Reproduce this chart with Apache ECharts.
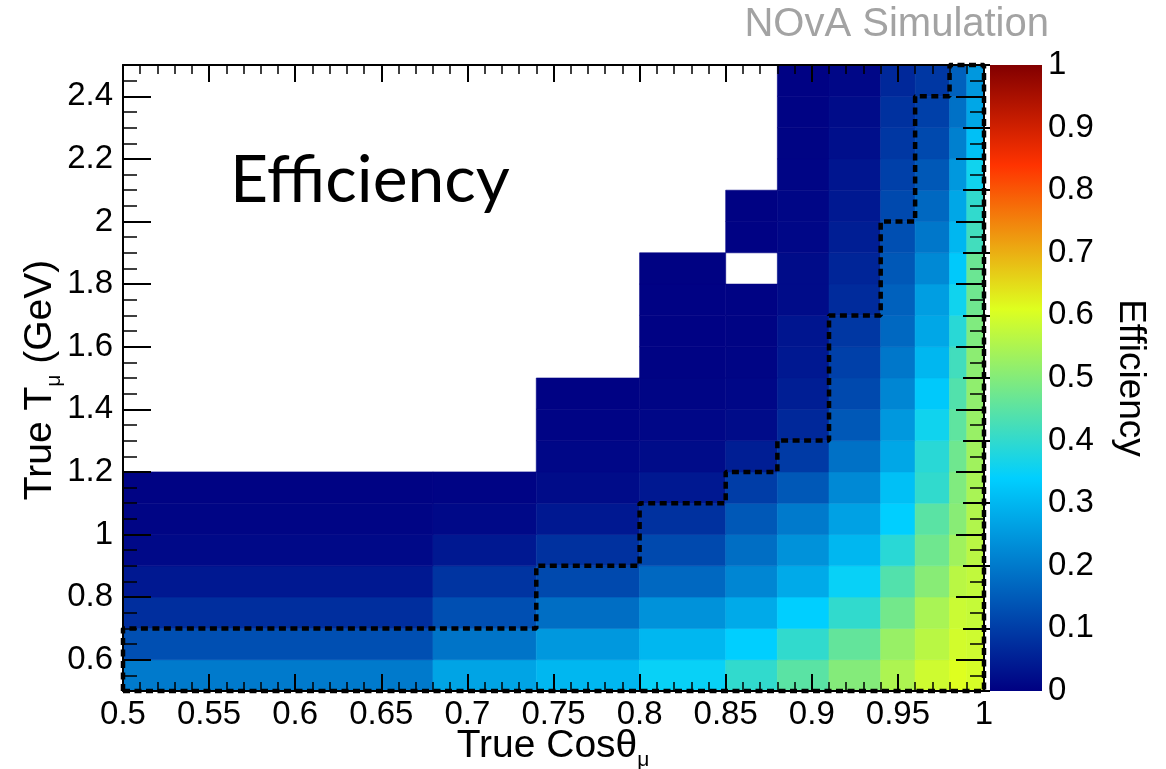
<!DOCTYPE html>
<html>
<head>
<meta charset="utf-8">
<title>NOvA Simulation – Efficiency</title>
<script src="https://cdn.jsdelivr.net/npm/echarts@6/dist/echarts.min.js"></script>
<style>
  html, body { margin: 0; padding: 0; background: #ffffff; }
  #chart { width: 1166px; height: 769px; }
</style>
</head>
<body>
<div id="chart"></div>
<script>
// ---- binning ----
const cosEdges = [0.5, 0.68, 0.74, 0.8, 0.85, 0.88, 0.91, 0.94, 0.96, 0.98, 0.99, 1.0];
const tEdges = [0.5, 0.6, 0.7, 0.8, 0.9, 1.0, 1.1, 1.2, 1.3, 1.4, 1.5,
                1.6, 1.7, 1.8, 1.9, 2.0, 2.1, 2.2, 2.3, 2.4, 2.5];

// ---- efficiency per cos bin, lowest T bin first (null = empty bin) ----
const effCos050 = [0.20, 0.13, 0.075, 0.04, 0.015, 0.008, 0.005];
const effCos068 = [0.27, 0.19, 0.13, 0.085, 0.04, 0.015, 0.007];
const effCos074 = [0.30, 0.25, 0.18, 0.12, 0.08, 0.04, 0.02, 0.012, 0.007, 0.004];
const effCos080 = [0.35, 0.30, 0.24, 0.17, 0.12, 0.08, 0.04, 0.02, 0.012, 0.008,
                   0.005, 0.004, 0.004, 0.003];
const effCos085 = [0.40, 0.34, 0.28, 0.22, 0.18, 0.145, 0.10, 0.05, 0.02, 0.012,
                   0.008, 0.006, 0.005, null, 0.004, 0.003];
const effCos088 = [0.45, 0.40, 0.34, 0.28, 0.24, 0.20, 0.145, 0.095, 0.065, 0.05,
                   0.04, 0.035, 0.02, 0.02, 0.012, 0.01, 0.008, 0.006, 0.005, 0.004];
const effCos091 = [0.50, 0.46, 0.40, 0.35, 0.30, 0.265, 0.225, 0.185, 0.145, 0.12,
                   0.105, 0.09, 0.07, 0.06, 0.05, 0.04, 0.035, 0.025, 0.02, 0.012];
const effCos094 = [0.55, 0.525, 0.48, 0.44, 0.39, 0.34, 0.315, 0.275, 0.25, 0.22,
                   0.195, 0.17, 0.16, 0.145, 0.13, 0.12, 0.105, 0.09, 0.08, 0.065];
const effCos096 = [0.59, 0.565, 0.545, 0.505, 0.475, 0.45, 0.40, 0.39, 0.36, 0.33,
                   0.30, 0.275, 0.26, 0.225, 0.195, 0.17, 0.145, 0.12, 0.105, 0.09];
const effCos098 = [0.61, 0.595, 0.585, 0.565, 0.535, 0.505, 0.495, 0.475, 0.455, 0.44,
                   0.42, 0.39, 0.36, 0.33, 0.30, 0.275, 0.25, 0.21, 0.185, 0.16];
const effCos099 = [0.60, 0.59, 0.58, 0.575, 0.565, 0.555, 0.545, 0.535, 0.525, 0.515,
                   0.51, 0.495, 0.475, 0.47, 0.42, 0.40, 0.36, 0.315, 0.275, 0.25];
const effByCosBin = [effCos050, effCos068, effCos074, effCos080, effCos085, effCos088,
                     effCos091, effCos094, effCos096, effCos098, effCos099];

// ---- selection boundary: maximum T for each cos range ----
const cutCosEdges = [0.5, 0.74, 0.8, 0.85, 0.88, 0.91, 0.94, 0.96, 0.98, 1.0];
const cutTMax = [0.7, 0.9, 1.1, 1.2, 1.3, 1.7, 2.0, 2.4, 2.5];

// ---- tick labels ----
const tTickLabels = [0.6, 0.8, 1.0, 1.2, 1.4, 1.6, 1.8, 2.0, 2.2, 2.4];
const tMinorTicks = [0.55, 0.65, 0.7, 0.75, 0.85, 0.9, 0.95, 1.05, 1.1, 1.15, 1.25, 1.3, 1.35,
                     1.45, 1.5, 1.55, 1.65, 1.7, 1.75, 1.85, 1.9, 1.95, 2.05, 2.1, 2.15,
                     2.25, 2.3, 2.35, 2.45];

// ---- colour palette (gradient stops) ----
const paletteStops = [0.00, 0.34, 0.61, 0.84, 1.00];
const paletteRGB = [[0, 0, 130], [0, 207, 255], [222, 255, 31], [255, 51, 0], [130, 0, 0]];

function paletteColor(t) {
  let k = 0;
  while (k < paletteStops.length - 2 && t > paletteStops[k + 1]) k++;
  const f = (t - paletteStops[k]) / (paletteStops[k + 1] - paletteStops[k]);
  const c = paletteRGB[k].map((v, i) => Math.round(v + (paletteRGB[k + 1][i] - v) * f));
  return 'rgb(' + c.join(',') + ')';
}
const rampColors = [];
for (let i = 0; i <= 100; i++) rampColors.push(paletteColor(i / 100));

// ---- build cells ----
const cells = [];
effByCosBin.forEach((col, i) => {
  col.forEach((v, j) => {
    if (v !== null && v !== undefined) {
      cells.push([cosEdges[i], cosEdges[i + 1], tEdges[j], tEdges[j + 1], v]);
    }
  });
});

// ---- boundary outline ----
const cutPath = [[cutCosEdges[0], tEdges[0]]];
for (let i = 0; i < cutTMax.length; i++) {
  cutPath.push([cutCosEdges[i], cutTMax[i]]);
  cutPath.push([cutCosEdges[i + 1], cutTMax[i]]);
}
cutPath.push([cutCosEdges[cutCosEdges.length - 1], tEdges[0]]);
cutPath.push([cutCosEdges[0], tEdges[0]]);

const FONT = "'Liberation Sans', Arial, Helvetica, sans-serif";
const BLACK = '#000000';

const chart = echarts.init(document.getElementById('chart'), null, { renderer: 'canvas' });

const frameAxisLine = { show: true, onZero: false, lineStyle: { color: BLACK, width: 2 } };

const option = {
  backgroundColor: '#ffffff',
  animation: false,
  grid: [
    { left: 123, right: 182, top: 65, bottom: 78 },
    { left: 990, top: 65, width: 52, height: 626 }
  ],
  xAxis: [
    {
      type: 'value', gridIndex: 0, position: 'bottom', min: 0.5, max: 1.0, interval: 0.05, z: 5,
      axisLine: frameAxisLine,
      axisTick: { inside: true, length: 17, lineStyle: { color: BLACK, width: 2 } },
      minorTick: { show: true, splitNumber: 5, length: 9, lineStyle: { color: BLACK, width: 1.5 } },
      axisLabel: { color: BLACK, fontFamily: FONT, fontSize: 33, margin: 7 },
      splitLine: { show: false }
    },
    {
      type: 'value', gridIndex: 0, position: 'top', min: 0.5, max: 1.0, interval: 0.05, z: 5,
      axisLine: frameAxisLine,
      axisTick: { inside: true, length: 17, lineStyle: { color: BLACK, width: 2 } },
      minorTick: { show: true, splitNumber: 5, length: 9, lineStyle: { color: BLACK, width: 1.5 } },
      axisLabel: { show: false },
      splitLine: { show: false }
    },
    {
      type: 'value', gridIndex: 1, min: 0, max: 1, show: false
    }
  ],
  yAxis: [
    {
      type: 'value', gridIndex: 0, position: 'left', min: 0.5, max: 2.5, z: 5,
      axisLine: frameAxisLine,
      axisTick: { inside: true, length: 28, customValues: tTickLabels, lineStyle: { color: BLACK, width: 2 } },
      axisLabel: { customValues: tTickLabels, color: BLACK, fontFamily: FONT, fontSize: 33, margin: 10 },
      splitLine: { show: false }
    },
    {
      type: 'value', gridIndex: 0, position: 'left', min: 0.5, max: 2.5, z: 5,
      axisLine: { show: false },
      axisTick: { inside: true, length: 14, customValues: tMinorTicks, lineStyle: { color: BLACK, width: 1.5 } },
      axisLabel: { show: false },
      splitLine: { show: false }
    },
    {
      type: 'value', gridIndex: 0, position: 'right', min: 0.5, max: 2.5, z: 5,
      axisLine: frameAxisLine,
      axisTick: { inside: true, length: 28, customValues: tTickLabels, lineStyle: { color: BLACK, width: 2 } },
      axisLabel: { show: false },
      splitLine: { show: false }
    },
    {
      type: 'value', gridIndex: 0, position: 'right', min: 0.5, max: 2.5, z: 5,
      axisLine: { show: false },
      axisTick: { inside: true, length: 14, customValues: tMinorTicks, lineStyle: { color: BLACK, width: 1.5 } },
      axisLabel: { show: false },
      splitLine: { show: false }
    },
    {
      type: 'value', gridIndex: 1, position: 'right', min: 0, max: 1, interval: 0.1, z: 5,
      axisLine: { show: false },
      axisTick: { inside: true, length: 27, lineStyle: { color: BLACK, width: 2 } },
      axisLabel: { color: BLACK, fontFamily: FONT, fontSize: 33, margin: 6 },
      splitLine: { show: false }
    }
  ],
  visualMap: {
    type: 'continuous',
    show: false,
    min: 0,
    max: 1,
    dimension: 4,
    seriesIndex: 0,
    inRange: { color: rampColors }
  },
  series: [
    {
      type: 'custom',
      name: 'Efficiency',
      xAxisIndex: 0,
      yAxisIndex: 0,
      data: cells,
      encode: { x: [0, 1], y: [2, 3] },
      clip: true,
      renderItem: function (params, api) {
        const p0 = api.coord([api.value(0), api.value(3)]);
        const p1 = api.coord([api.value(1), api.value(2)]);
        const color = api.visual('color');
        return {
          type: 'rect',
          shape: { x: p0[0], y: p0[1], width: p1[0] - p0[0], height: p1[1] - p0[1] },
          style: { fill: color, stroke: color, lineWidth: 0.6 }
        };
      }
    },
    {
      type: 'line',
      name: 'Selection',
      xAxisIndex: 0,
      yAxisIndex: 0,
      data: cutPath,
      symbol: 'none',
      clip: false,
      z: 10,
      silent: true,
      lineStyle: { color: BLACK, width: 4.5, type: [7, 4.5], cap: 'butt' }
    }
  ],
  graphic: [
    {
      type: 'rect', z: -1, silent: true,
      shape: { x: 990, y: 65, width: 52, height: 626 },
      style: {
        fill: new echarts.graphic.LinearGradient(0, 1, 0, 0,
          paletteStops.map((s, i) => ({ offset: s, color: 'rgb(' + paletteRGB[i].join(',') + ')' })))
      }
    },
    {
      type: 'text', silent: true,
      x: 1049, y: 5,
      style: {
        text: 'NOvA Simulation', fill: '#a3a3a3',
        font: "40px 'Liberation Sans', Arial, sans-serif",
        align: 'right', verticalAlign: 'top', textAlign: 'right', textVerticalAlign: 'top'
      }
    },
    {
      type: 'text', silent: true,
      x: 230, y: 148,
      style: {
        text: 'Efficiency', fill: BLACK,
        font: "66px Lato, 'Open Sans', sans-serif",
        align: 'left', verticalAlign: 'top', textAlign: 'left', textVerticalAlign: 'top'
      }
    },
    {
      type: 'text', silent: true,
      x: 553, y: 746,
      style: {
        text: '{m|True Cosθ}{s|μ}',
        align: 'center', verticalAlign: 'middle', textAlign: 'center', textVerticalAlign: 'middle',
        rich: {
          m: { font: "39px 'Liberation Sans', Arial, sans-serif", fill: BLACK, lineHeight: 50, verticalAlign: 'middle' },
          s: { font: "21px 'Liberation Sans', Arial, sans-serif", fill: BLACK, lineHeight: 21, verticalAlign: 'bottom' }
        }
      }
    },
    {
      type: 'text', silent: true,
      x: 40, y: 380, rotation: Math.PI / 2,
      style: {
        text: '{m|True T}{s|μ}{m| (GeV)}',
        align: 'center', verticalAlign: 'middle', textAlign: 'center', textVerticalAlign: 'middle',
        rich: {
          m: { font: "39px 'Liberation Sans', Arial, sans-serif", fill: BLACK, lineHeight: 50, verticalAlign: 'middle' },
          s: { font: "21px 'Liberation Sans', Arial, sans-serif", fill: BLACK, lineHeight: 21, verticalAlign: 'bottom' }
        }
      }
    },
    {
      type: 'text', silent: true,
      x: 1130, y: 378, rotation: -Math.PI / 2,
      style: {
        text: 'Efficiency', fill: BLACK,
        font: "37px 'Liberation Sans', Arial, sans-serif",
        align: 'center', verticalAlign: 'middle', textAlign: 'center', textVerticalAlign: 'middle'
      }
    }
  ]
};

chart.setOption(option);
</script>
</body>
</html>
